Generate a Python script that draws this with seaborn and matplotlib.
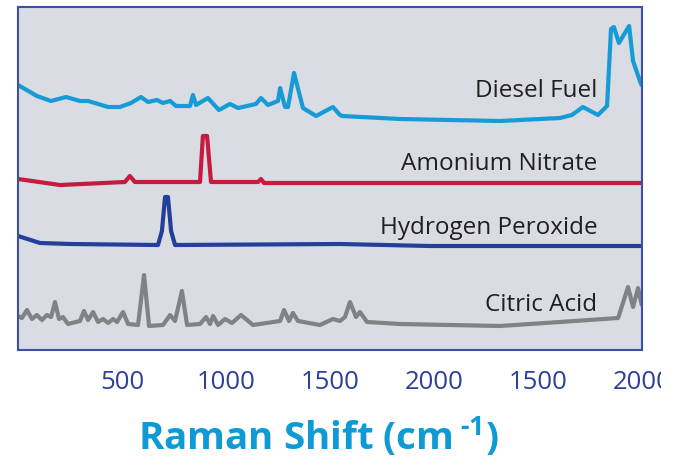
import matplotlib
matplotlib.use("Agg")
import matplotlib.pyplot as plt
import seaborn as sns
import pandas as pd
from matplotlib.patches import Rectangle

# ---- data (x in axis units 0..3000, y arbitrary intensity) ----
diesel_x = [0, 91, 159, 231, 298, 337, 433, 490, 543, 591, 625, 668, 697, 731, 760, 827, 841, 856,
            913, 966, 1019, 1058, 1144, 1168, 1202, 1250, 1260, 1284, 1298, 1327, 1370, 1433, 1514,
            1548, 1558, 1837, 2078, 2317, 2606, 2663, 2716, 2788, 2832, 2851, 2865, 2889, 2938,
            2957, 2990, 3000]
diesel_y = [265, 254, 249, 253, 249, 249, 243, 243, 247, 253, 248, 250, 247, 249, 244, 244, 255, 245,
            252, 240, 246, 242, 246, 252, 245, 249, 262, 243, 243, 277, 242, 234, 243,
            235, 234, 231, 230, 229, 232, 235, 243, 235, 244, 321, 323, 307, 324,
            289, 269, 264]

nitrate_x = [0, 202, 514, 538, 562, 875, 889, 909, 928, 1154, 1168, 1183, 3000]
nitrate_y = [171, 165, 168, 174, 168, 168, 214, 214, 168, 168, 171, 167, 167]

peroxide_x = [0, 106, 250, 673, 692, 707, 721, 736, 755, 1548, 1981, 3000]
peroxide_y = [114, 107, 106, 105, 119, 153, 153, 119, 105, 106, 104, 104]

citric_x = [0, 19, 43, 67, 91, 115, 139, 159, 178, 197, 216, 240, 298, 317, 337, 361, 385, 409,
            433, 457, 476, 505, 529, 577, 606, 630, 697, 731, 755, 788, 813, 875, 904, 923, 938,
            962, 995, 1029, 1072, 1130, 1260, 1279, 1303, 1322, 1346, 1452, 1514, 1548, 1572,
            1596, 1625, 1644, 1678, 1837, 2317, 2606, 2885, 2933, 2957, 2981, 3000]
citric_y = [34, 32, 40, 31, 35, 30, 35, 33, 48, 31, 33, 26, 29, 39, 30, 38, 28, 31,
            27, 31, 28, 38, 26, 25, 75, 24, 25, 35, 29, 59, 25, 26, 33, 26, 34,
            25, 31, 27, 35, 25, 29, 40, 29, 37, 29, 25, 31, 29, 33,
            48, 33, 38, 28, 26, 24, 28, 32, 63, 43, 62, 44]

series_names = ["Diesel Fuel", "Amonium Nitrate", "Hydrogen Peroxide", "Citric Acid"]
series_colors = ["#169bd7", "#c8193f", "#22409a", "#808285"]
label_x = 2785
label_y = [254, 181, 117, 40]

tick_pos = [0, 500, 1000, 1500, 2000, 2500, 3000]
tick_labels = ["", "500", "1000", "1500", "2000", "1500", "2000"]

# ---- style ----
sns.set_style("white")
plt.rcParams["font.family"] = ["Open Sans", "DejaVu Sans"]
plt.rcParams["mathtext.fontset"] = "custom"
plt.rcParams["mathtext.rm"] = "Open Sans:bold"
plt.rcParams["mathtext.bf"] = "Open Sans:bold"
plt.rcParams["mathtext.default"] = "bf"

spine_c = "#3d50a6"
tick_c = "#2e3f9c"
bg = "#d9dce3"

fig = plt.figure(figsize=(6.78, 4.60), dpi=100)
ax = fig.add_axes([18 / 678, 1 - 351 / 460, 624 / 678, 343 / 460])
ax.set_facecolor(bg)

xs = [diesel_x, nitrate_x, peroxide_x, citric_x]
ys = [diesel_y, nitrate_y, peroxide_y, citric_y]
for name, x, y, c in zip(series_names, xs, ys, series_colors):
    df = pd.DataFrame({"x": x, "y": y})
    sns.lineplot(data=df, x="x", y="y", ax=ax, color=c, linewidth=3.0, sort=False,
                 estimator=None)
for line in ax.get_lines():
    line.set_solid_joinstyle("round")
    line.set_solid_capstyle("butt")

for name, ly in zip(series_names, label_y):
    ax.text(label_x, ly, name, ha="right", va="baseline", fontsize=17.5, color="#231f20")

ax.set_xlim(0, 3000)
ax.set_ylim(0, 343)
ax.set_xticks(tick_pos)
ax.set_xticklabels(tick_labels)
ax.set_yticks([0])
ax.set_yticklabels([""])
ax.tick_params(axis="x", direction="out", length=10, width=1.5, color=spine_c,
               labelcolor=tick_c, labelsize=18.5, pad=4)
ax.tick_params(axis="y", direction="out", length=10, width=1.5, color=spine_c)
for s in ax.spines.values():
    s.set_visible(True)
    s.set_color(spine_c)
    s.set_linewidth(1.5)

ax.set_ylabel("")
ax.set_xlabel(r"Raman Shift (cm$\,^{\text{-}1}$)", fontsize=27.7, fontweight="bold",
              color="#0f9ad6", labelpad=14)
ax.xaxis.label.set_x(0.481)

fig.patches.append(Rectangle((661 / 678, 0), 17 / 678, 1, transform=fig.transFigure,
                             facecolor="white", edgecolor="none", zorder=10))

fig.savefig("out.png", dpi=100)
